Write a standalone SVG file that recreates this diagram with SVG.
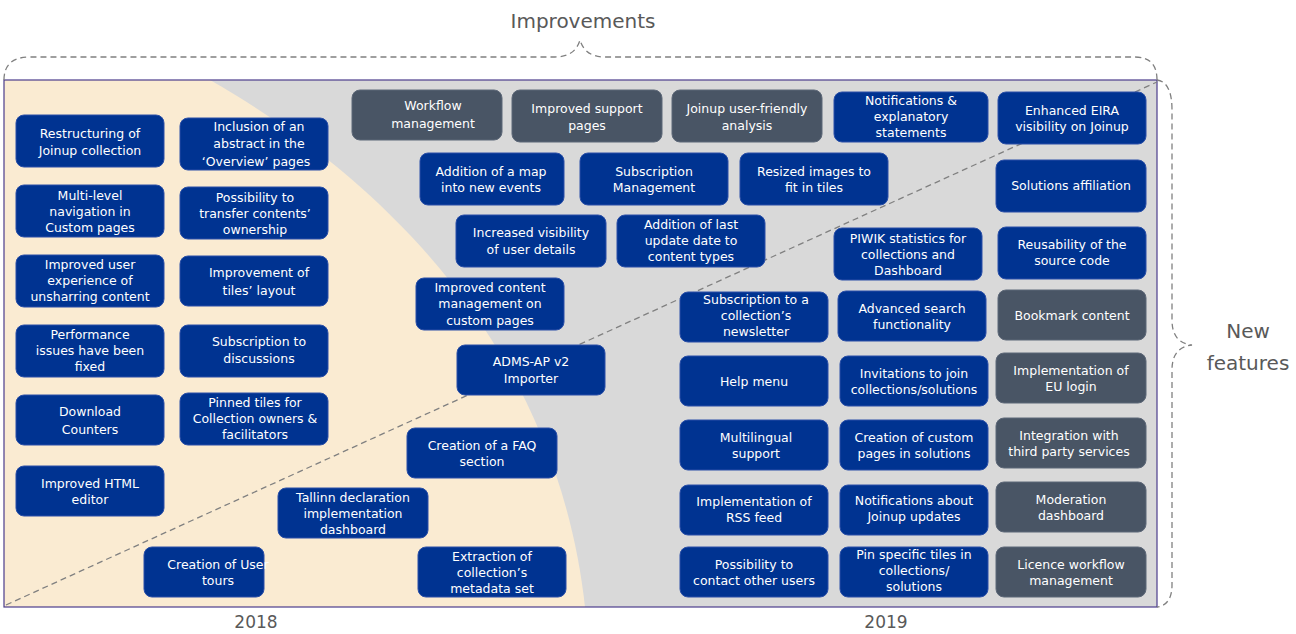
<svg xmlns="http://www.w3.org/2000/svg" width="1296" height="634" viewBox="0 0 1296 634">
<style>
.b rect{fill:#003391;stroke:#2a4fa8;stroke-width:1}
.g rect{fill:#495565;stroke:#5d6878;stroke-width:1}
.n text{font-family:"DejaVu Sans",Verdana,sans-serif;font-size:12.5px;fill:#fff;text-anchor:middle}
.lbl{font-family:"DejaVu Sans",Verdana,sans-serif;fill:#595959;text-anchor:middle}
.d{fill:none;stroke:#808080;stroke-width:1.3;stroke-dasharray:6,4}
</style>
<rect width="1296" height="634" fill="#fff"/>
<rect x="4" y="80" width="1153" height="527" fill="#d9d9d9"/>
<path d="M4,80 L210,80 C420,200 560,380 585,607 L4,607 Z" fill="#faebd2"/>
<rect x="4" y="80" width="1153" height="527" fill="none" stroke="#4b3c8c" stroke-width="1.2"/>
<g id="connectors">
<path class="d" d="M6,605 L1157,82"/>
<path class="d" d="M4,80 Q4,57 30,57 L555,57 Q575,57 580,40 Q585,57 605,57 L1135,57 Q1157,57 1157,80"/>
<path class="d" d="M1157,80 Q1172,82 1172,110 L1172,320 Q1172,343 1192,345 Q1172,347 1172,370 L1172,585 Q1172,605 1157,607"/>
</g>
<text class="lbl" x="583" y="28" font-size="20">Improvements</text>
<text class="lbl" x="1248" y="338" font-size="20">New</text>
<text class="lbl" x="1248" y="370" font-size="20">features</text>
<text class="lbl" x="256" y="628" font-size="17">2018</text>
<text class="lbl" x="886" y="628" font-size="17">2019</text>

<g id="n1" class="n b"><rect x="16" y="115" width="148" height="52" rx="8"/><text x="90" y="138">Restructuring of</text><text x="90" y="155">Joinup collection</text></g>
<g id="n2" class="n b"><rect x="16" y="185" width="148" height="52" rx="8"/><text x="90" y="200">Multi-level</text><text x="90" y="216">navigation in</text><text x="90" y="232">Custom pages</text></g>
<g id="n3" class="n b"><rect x="16" y="255" width="148" height="52" rx="8"/><text x="90" y="269">Improved user</text><text x="90" y="285">experience of</text><text x="90" y="301">unsharring content</text></g>
<g id="n4" class="n b"><rect x="16" y="325" width="148" height="52" rx="8"/><text x="90" y="339">Performance</text><text x="90" y="355">issues have been</text><text x="90" y="371">fixed</text></g>
<g id="n5" class="n b"><rect x="16" y="395" width="148" height="50" rx="8"/><text x="90" y="416">Download</text><text x="90" y="434">Counters</text></g>
<g id="n6" class="n b"><rect x="16" y="466" width="148" height="50" rx="8"/><text x="90" y="488">Improved HTML</text><text x="90" y="504">editor</text></g>
<g id="n7" class="n b"><rect x="180" y="118" width="148" height="52" rx="8"/><text x="259" y="131">Inclusion of an</text><text x="259" y="148">abstract in the</text><text x="256" y="166">‘Overview’ pages</text></g>
<g id="n8" class="n b"><rect x="180" y="187" width="148" height="52" rx="8"/><text x="255" y="202">Possibility to</text><text x="255" y="218">transfer contents’</text><text x="255" y="234">ownership</text></g>
<g id="n9" class="n b"><rect x="180" y="256" width="148" height="50" rx="8"/><text x="259" y="277">Improvement of</text><text x="259" y="295">tiles’ layout</text></g>
<g id="n10" class="n b"><rect x="180" y="325" width="148" height="52" rx="8"/><text x="259" y="346">Subscription to</text><text x="259" y="363">discussions</text></g>
<g id="n11" class="n b"><rect x="180" y="393" width="148" height="52" rx="8"/><text x="255" y="407">Pinned tiles for</text><text x="255" y="423">Collection owners &amp;</text><text x="255" y="439">facilitators</text></g>

<g id="n12" class="n g"><rect x="352" y="90" width="150" height="50" rx="8"/><text x="433" y="110">Workflow</text><text x="433" y="128">management</text></g>
<g id="n13" class="n g"><rect x="512" y="90" width="150" height="52" rx="8"/><text x="587" y="113">Improved support</text><text x="587" y="130">pages</text></g>
<g id="n14" class="n g"><rect x="672" y="90" width="150" height="52" rx="8"/><text x="747" y="113">Joinup user-friendly</text><text x="747" y="130">analysis</text></g>
<g id="n15" class="n b"><rect x="834" y="92" width="154" height="50" rx="8"/><text x="911" y="105">Notifications &amp;</text><text x="911" y="121">explanatory</text><text x="911" y="137">statements</text></g>
<g id="n16" class="n b"><rect x="998" y="92" width="148" height="52" rx="8"/><text x="1072" y="115">Enhanced EIRA</text><text x="1072" y="131">visibility  on Joinup</text></g>
<g id="n17" class="n b"><rect x="420" y="153" width="144" height="52" rx="8"/><text x="491" y="176">Addition of a map</text><text x="491" y="192">into new events</text></g>
<g id="n18" class="n b"><rect x="580" y="153" width="148" height="52" rx="8"/><text x="654" y="176">Subscription</text><text x="654" y="192">Management</text></g>
<g id="n19" class="n b"><rect x="740" y="153" width="148" height="52" rx="8"/><text x="814" y="176">Resized images to</text><text x="814" y="192">fit in tiles</text></g>
<g id="n20" class="n b"><rect x="996" y="160" width="150" height="52" rx="8"/><text x="1071" y="190">Solutions affiliation</text></g>
<g id="n21" class="n b"><rect x="456" y="215" width="150" height="52" rx="8"/><text x="531" y="237">Increased visibility</text><text x="531" y="254">of user details</text></g>
<g id="n22" class="n b"><rect x="617" y="215" width="148" height="52" rx="8"/><text x="691" y="229">Addition of last</text><text x="691" y="245">update date to</text><text x="691" y="261">content types</text></g>
<g id="n23" class="n b"><rect x="834" y="228" width="148" height="52" rx="8"/><text x="908" y="243">PIWIK statistics for</text><text x="908" y="259">collections and</text><text x="908" y="275">Dashboard</text></g>
<g id="n24" class="n b"><rect x="998" y="227" width="148" height="52" rx="8"/><text x="1072" y="249">Reusability of the</text><text x="1072" y="265">source code</text></g>
<g id="n25" class="n b"><rect x="416" y="278" width="148" height="52" rx="8"/><text x="490" y="292">Improved content</text><text x="490" y="308">management on</text><text x="490" y="325">custom pages</text></g>
<g id="n26" class="n b"><rect x="680" y="292" width="148" height="50" rx="8"/><text x="756" y="304">Subscription to a</text><text x="756" y="320">collection’s</text><text x="756" y="336">newsletter</text></g>
<g id="n27" class="n b"><rect x="838" y="291" width="148" height="50" rx="8"/><text x="912" y="313">Advanced search</text><text x="912" y="329">functionality</text></g>
<g id="n28" class="n g"><rect x="998" y="290" width="148" height="50" rx="8"/><text x="1072" y="320">Bookmark content</text></g>
<g id="n29" class="n b"><rect x="457" y="345" width="148" height="50" rx="8"/><text x="531" y="366">ADMS-AP  v2</text><text x="531" y="383">Importer</text></g>
<g id="n30" class="n b"><rect x="680" y="356" width="148" height="50" rx="8"/><text x="754" y="386">Help menu</text></g>
<g id="n31" class="n b"><rect x="840" y="356" width="148" height="50" rx="8"/><text x="914" y="378">Invitations to join</text><text x="914" y="394">collections/solutions</text></g>
<g id="n32" class="n g"><rect x="996" y="353" width="150" height="50" rx="8"/><text x="1071" y="375">Implementation of</text><text x="1071" y="391">EU login</text></g>
<g id="n33" class="n b"><rect x="407" y="428" width="150" height="50" rx="8"/><text x="482" y="450">Creation of a FAQ</text><text x="482" y="466">section</text></g>
<g id="n34" class="n b"><rect x="680" y="420" width="148" height="50" rx="8"/><text x="756" y="442">Multilingual</text><text x="756" y="458">support</text></g>
<g id="n35" class="n b"><rect x="840" y="420" width="148" height="50" rx="8"/><text x="914" y="442">Creation of custom</text><text x="914" y="458">pages in solutions</text></g>
<g id="n36" class="n g"><rect x="996" y="418" width="150" height="50" rx="8"/><text x="1069" y="440">Integration with</text><text x="1069" y="456">third party services</text></g>
<g id="n37" class="n b"><rect x="278" y="488" width="150" height="50" rx="8"/><text x="353" y="502">Tallinn declaration</text><text x="353" y="518">implementation</text><text x="353" y="534">dashboard</text></g>
<g id="n38" class="n b"><rect x="680" y="485" width="148" height="50" rx="8"/><text x="754" y="506">Implementation of</text><text x="754" y="522">RSS feed</text></g>
<g id="n39" class="n b"><rect x="840" y="485" width="148" height="50" rx="8"/><text x="914" y="505">Notifications about</text><text x="914" y="521">Joinup updates</text></g>
<g id="n40" class="n g"><rect x="996" y="482" width="150" height="50" rx="8"/><text x="1071" y="504">Moderation</text><text x="1071" y="520">dashboard</text></g>
<g id="n41" class="n b"><rect x="144" y="547" width="120" height="50" rx="8"/><text x="218" y="569">Creation of User</text><text x="218" y="585">tours</text></g>
<g id="n42" class="n b"><rect x="418" y="547" width="148" height="50" rx="8"/><text x="492" y="561">Extraction of</text><text x="492" y="577">collection’s</text><text x="492" y="593">metadata set</text></g>
<g id="n43" class="n b"><rect x="680" y="547" width="148" height="50" rx="8"/><text x="754" y="569">Possibility to</text><text x="754" y="585">contact other users</text></g>
<g id="n44" class="n b"><rect x="840" y="547" width="148" height="50" rx="8"/><text x="914" y="559">Pin specific tiles in</text><text x="914" y="575">collections/</text><text x="914" y="591">solutions</text></g>
<g id="n45" class="n g"><rect x="996" y="547" width="150" height="50" rx="8"/><text x="1071" y="569">Licence workflow</text><text x="1071" y="585">management</text></g>
</svg>
